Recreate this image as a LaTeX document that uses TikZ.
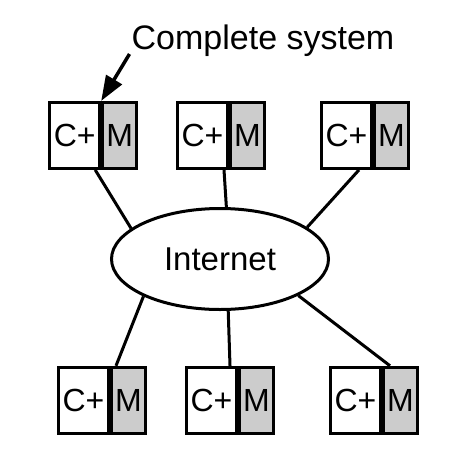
\documentclass[tikz,border=0pt]{standalone}
\usepackage{fontspec}
\setmainfont{Liberation Sans}
\usetikzlibrary{shapes.geometric,arrows.meta}
\definecolor{memgray}{RGB}{204,204,204}
\begin{document}
\begin{tikzpicture}[x=1pt,y=-1pt,line width=3pt,
    cpu/.style={draw,fill=white,minimum width=50pt,minimum height=66pt,inner sep=0pt,font=\fontsize{32}{36}\selectfont},
    mem/.style={cpu,fill=memgray,minimum width=34pt,anchor=west},
    net/.style={draw,ellipse,minimum width=217pt,minimum height=101pt,inner sep=0pt,font=\fontsize{33}{38}\selectfont}]
  \useasboundingbox (0,0) rectangle (468,464);
  \node[net] (net) at (220,259) {Internet};
  % systems above the network
  \node[cpu] (c1) at (74.7,135.4) {C+};  \node[mem] (m1) at (c1.east) {M};
  \node[cpu] (c2) at (202.5,135.4) {C+}; \node[mem] (m2) at (c2.east) {M};
  \node[cpu] (c3) at (346.5,135.4) {C+}; \node[mem] (m3) at (c3.east) {M};
  % systems below the network
  \node[cpu] (c4) at (83.5,400.3) {C+};  \node[mem] (m4) at (c4.east) {M};
  \node[cpu] (c5) at (211.5,400.3) {C+}; \node[mem] (m5) at (c5.east) {M};
  \node[cpu] (c6) at (355.5,400.3) {C+}; \node[mem] (m6) at (c6.east) {M};
  \draw ([xshift=-6pt]c1.south east) -- (net.161);
  \draw ([xshift=-5pt]c2.south east) -- (net.83);
  \draw ([xshift=-14pt]c3.south east) -- (net.20);
  \draw ([xshift=6pt]m4.north west) -- (net.-154);
  \draw ([xshift=-8pt]m5.north west) -- (net.-81);
  \draw ([xshift=8pt]m6.north west) -- (net.-25);
  % label with its arrow
  \node[anchor=base,font=\fontsize{34}{40}\selectfont] (label) at (263,49) {Complete system};
  \coordinate (tail) at (129.5,54);
  \draw[-{Triangle[length=25pt,width=18pt]},line width=3.5pt] (tail) -- (m1.north west);
\end{tikzpicture}
\end{document}
